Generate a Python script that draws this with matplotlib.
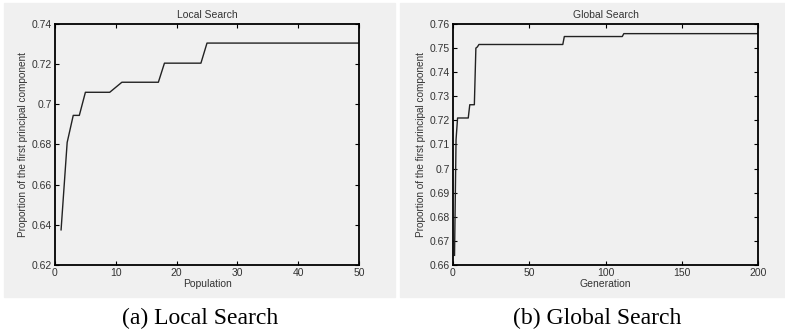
import matplotlib
matplotlib.use("Agg")
import matplotlib.pyplot as plt
from matplotlib.patches import Rectangle

# Local search: best proportion per population size
local_x = list(range(1, 51))
local_y = ([0.6375, 0.681, 0.6945, 0.6945]
           + [0.706] * 5
           + [0.7085]
           + [0.711] * 7
           + [0.7205] * 7
           + [0.7305] * 26)

# Global search: best proportion per generation
global_x = list(range(1, 201))
global_y = ([0.664, 0.712]
            + [0.721] * 8
            + [0.7265] * 4
            + [0.750, 0.7505]
            + [0.7515] * 56
            + [0.7548] * 39
            + [0.756] * 89)

panel_color = "#f0f0f0"
plt.rcParams["font.family"] = ["Liberation Sans", "DejaVu Sans"]

fig = plt.figure(figsize=(7.85, 3.35), dpi=100)
W, H = 785, 335

# gray backgrounds behind each subfigure
fig.patches.append(Rectangle((4 / W, 38 / H), 391 / W, 294 / H,
                             transform=fig.transFigure, color=panel_color, zorder=-5))
fig.patches.append(Rectangle((400 / W, 38 / H), 385 / W, 294 / H,
                             transform=fig.transFigure, color=panel_color, zorder=-5))


def setup(ax, x, y, title, xlabel, xlim, ylim, yticks, ytl, xticks):
    ax.set_zorder(2)
    ax.set_facecolor(panel_color)
    ax.plot(x, y, color="#222222", lw=1.0)
    ax.set_xlim(*xlim)
    ax.set_ylim(*ylim)
    ax.set_xticks(xticks)
    ax.set_yticks(yticks)
    ax.set_yticklabels(ytl)
    ax.tick_params(direction="in", top=True, right=True, labelsize=7.5,
                   length=3, width=0.8, pad=2, labelcolor="#333333")
    for s in ax.spines.values():
        s.set_linewidth(1.3)
    ax.set_title(title, fontsize=7.5, pad=4, color="#333333")
    ax.set_xlabel(xlabel, fontsize=7.5, labelpad=1, color="#333333")
    ax.set_ylabel("Proportion of the first principal component", fontsize=7.2,
                  labelpad=3, color="#333333")


ax1 = fig.add_axes([55 / W, 70 / H, 304 / W, 241 / H])
setup(ax1, local_x, local_y, "Local Search", "Population", (0, 50), (0.62, 0.74),
      [0.62, 0.64, 0.66, 0.68, 0.70, 0.72, 0.74],
      ["0.62", "0.64", "0.66", "0.68", "0.7", "0.72", "0.74"],
      [0, 10, 20, 30, 40, 50])

ax2 = fig.add_axes([453 / W, 70 / H, 305 / W, 241 / H])
gy = [0.66 + 0.01 * i for i in range(11)]
gl = ["0.66", "0.67", "0.68", "0.69", "0.7", "0.71", "0.72", "0.73", "0.74", "0.75", "0.76"]
setup(ax2, global_x, global_y, "Global Search", "Generation", (0, 200), (0.66, 0.76),
      gy, gl, [0, 50, 100, 150, 200])

fig.text(200 / W, 17 / H, "(a) Local Search", ha="center", va="center",
         fontsize=17, family="Liberation Serif")
fig.text(597 / W, 17 / H, "(b) Global Search", ha="center", va="center",
         fontsize=17, family="Liberation Serif")

fig.savefig("out.png", dpi=100, facecolor="white")
